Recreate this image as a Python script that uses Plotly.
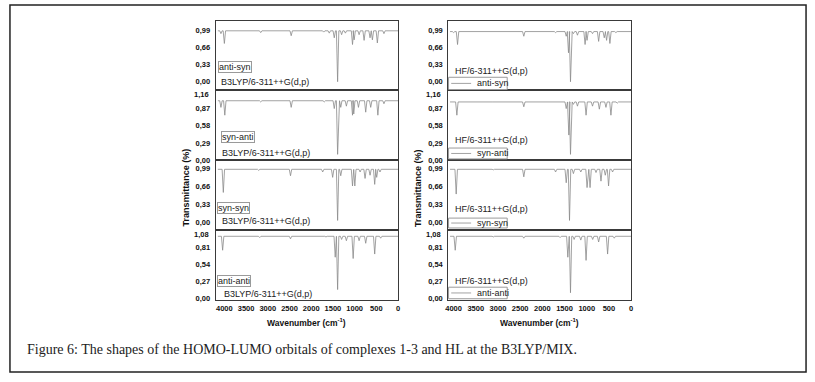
import plotly.graph_objects as go

# ---------------- data ----------------
conformers = ["anti-syn", "syn-anti", "syn-syn", "anti-anti"]
x_tick_vals = [4000, 3500, 3000, 2500, 2000, 1500, 1000, 500, 0]
x_tick_text = ["4000", "3500", "3000", "2500", "2000", "1500", "1000", "500", "0"]

y_ticks_p1 = [0.0, 0.33, 0.66, 0.99]
y_ticks_p2 = [0.0, 0.29, 0.58, 0.87]
y_ticks_p3 = [0.0, 0.33, 0.66, 0.99]
y_ticks_p4 = [0.0, 0.27, 0.54, 0.81]
y_top_labels = ["", "1,16", "", "1,08"]

# B3LYP/6-311++G(d,p): band positions (cm-1) and transmittance at band minimum
as_b3_pos = [4079, 4000, 3163, 2461, 1712, 1584, 1469, 1392, 1300, 1213, 1049, 1011, 897, 782, 645, 591, 477, 325]
as_b3_min = [0.93, 0.74, 0.95, 0.89, 0.96, 0.94, 0.85, 0.00, 0.91, 0.94, 0.72, 0.81, 0.91, 0.80, 0.85, 0.81, 0.75, 0.93]
sa_b3_pos = [4079, 3990, 3163, 2461, 1700, 1469, 1392, 1320, 1190, 1049, 1020, 912, 745, 630, 465, 325]
sa_b3_min = [0.88, 0.75, 0.97, 0.88, 0.97, 0.86, 0.10, 0.88, 0.90, 0.75, 0.77, 0.88, 0.80, 0.88, 0.75, 0.94]
ss_b3_pos = [4024, 3209, 2477, 1736, 1506, 1392, 1320, 1049, 996, 874, 760, 645, 538, 492, 416]
ss_b3_min = [0.55, 0.96, 0.86, 0.93, 0.83, 0.03, 0.86, 0.67, 0.67, 0.93, 0.81, 0.87, 0.70, 0.83, 0.93]
aa_b3_pos = [4040, 3186, 2477, 1660, 1447, 1392, 1300, 1190, 1034, 897, 745, 538, 400]
aa_b3_min = [0.76, 0.96, 0.94, 0.97, 0.65, 0.14, 0.93, 0.91, 0.63, 0.91, 0.87, 0.70, 0.95]

# HF/6-311++G(d,p)
as_hf_pos = [4000, 3911, 3119, 2418, 1702, 1462, 1411, 1366, 1300, 1209, 1037, 993, 870, 732, 605, 553, 478, 343]
as_hf_min = [0.95, 0.72, 0.96, 0.88, 0.95, 0.88, 0.56, 0.00, 0.93, 0.90, 0.72, 0.80, 0.93, 0.78, 0.85, 0.80, 0.74, 0.95]
sa_hf_pos = [3926, 3104, 2418, 1462, 1403, 1366, 1300, 1209, 1015, 870, 716, 567, 455, 313]
sa_hf_min = [0.75, 0.97, 0.89, 0.86, 0.42, 0.10, 0.93, 0.90, 0.75, 0.90, 0.85, 0.88, 0.75, 0.95]
ss_hf_pos = [3941, 3104, 2418, 1702, 1462, 1388, 1300, 1134, 993, 925, 791, 679, 582, 508, 418]
ss_hf_min = [0.52, 0.97, 0.84, 0.93, 0.73, 0.03, 0.90, 0.93, 0.64, 0.64, 0.92, 0.76, 0.87, 0.67, 0.93]
aa_hf_pos = [3963, 3104, 2418, 1600, 1426, 1366, 1284, 1134, 1015, 866, 732, 530, 380]
aa_hf_min = [0.76, 0.97, 0.95, 0.96, 0.65, 0.09, 0.93, 0.92, 0.60, 0.93, 0.89, 0.70, 0.95]

b3_baseline = [0.985, 0.99, 0.98, 0.98]
hf_baseline = [0.97, 0.97, 0.98, 0.98]

# ---------------- layout helpers ----------------
W, H = 815, 382
def fx(p):
    return p / W
def fy(p):
    return 1 - p / H

panel_edges = [21, 91.7, 162.5, 233, 304]
y_ranges = [[-0.17, 1.18], [0.0, 1.16], [-0.147, 1.146], [-0.025, 1.08]]
y_ticks = [y_ticks_p1, y_ticks_p2, y_ticks_p3, y_ticks_p4]
left_dom = [fx(214), fx(397.5)]
right_dom = [fx(448), fx(632)]
left_range = [4200, 0]
right_range = [4120, 0]

LINE = "#8a8a8a"
FRAME = "#3a3a3a"
FONT = "Liberation Sans, Arial, sans-serif"
TICKFONT = dict(family=FONT, size=7.5, color="#111", weight="bold")


def spectrum(pos, mins, base, x0, x1, hw=28):
    pairs = sorted(zip(pos, mins), key=lambda t: -t[0])
    xs, ys = [x0], [base]
    for p, m in pairs:
        xs += [p + hw, p, p - hw]
        ys += [base, m, base]
    xs.append(x1)
    ys.append(base)
    return xs, ys


fig = go.Figure()
b3 = [(as_b3_pos, as_b3_min), (sa_b3_pos, sa_b3_min), (ss_b3_pos, ss_b3_min), (aa_b3_pos, aa_b3_min)]
hf = [(as_hf_pos, as_hf_min), (sa_hf_pos, sa_hf_min), (ss_hf_pos, ss_hf_min), (aa_hf_pos, aa_hf_min)]

layout_axes = {}
n = 0
for side, sets, dom, rng, bases, x0 in [
    ("L", b3, left_dom, left_range, b3_baseline, 4150),
    ("R", hf, right_dom, right_range, hf_baseline, 4080),
]:
    for i in range(4):
        n += 1
        xs, ys = spectrum(sets[i][0], sets[i][1], bases[i], x0, 0)
        xname = "x" if n == 1 else f"x{n}"
        yname = "y" if n == 1 else f"y{n}"
        fig.add_trace(go.Scatter(x=xs, y=ys, xaxis=xname, yaxis=yname, mode="lines",
                                 line=dict(color=LINE, width=0.8), hoverinfo="skip",
                                 showlegend=False))
        key = "" if n == 1 else str(n)
        ydom = [fy(panel_edges[i + 1]), fy(panel_edges[i])]
        xa = dict(
            domain=dom, range=rng, anchor=yname, showgrid=False, zeroline=False,
            showline=True, mirror=True, linecolor=FRAME, linewidth=1, ticks="",
            showticklabels=(i == 3))
        if i == 3:
            xa.update(tickvals=x_tick_vals, ticktext=x_tick_text, tickfont=TICKFONT,
                      ticklabelstandoff=1)
        layout_axes[f"xaxis{key}"] = xa
        layout_axes[f"yaxis{key}"] = dict(
            domain=ydom, range=y_ranges[i], anchor=xname, showgrid=False, zeroline=False,
            showline=True, mirror=True, linecolor=FRAME, linewidth=1, ticks="",
            tickvals=y_ticks[i], ticktext=[f"{v:.2f}".replace(".", ",") for v in y_ticks[i]],
            tickfont=TICKFONT, ticklabelstandoff=3)

fig.update_layout(**layout_axes)

ann = []
shapes = []
# top tick labels drawn just below panel border
for i, lab in enumerate(y_top_labels):
    if lab:
        yy = panel_edges[i] + 4.3
        for xr in (209, 443):
            ann.append(dict(x=fx(xr), y=fy(yy), xref="paper", yref="paper", text=f"<b>{lab}</b>",
                            showarrow=False, xanchor="right", yanchor="middle",
                            font=dict(family=FONT, size=7.5, color="#111")))

# left panel labels
box_y = [68.3, 139, 211, 285]
box_x = [216.7, 219, 215.7, 215.7]
txt_y = [83.3, 155, 224, 297.7]
txt_x = [217.7, 218, 218, 220]
for i in range(4):
    ann.append(dict(x=fx(box_x[i]), y=fy(box_y[i]), xref="paper", yref="paper",
                    text=conformers[i], showarrow=False, xanchor="left", yanchor="middle",
                    bordercolor="#9a9a9a", borderwidth=1, borderpad=0,
                    font=dict(family=FONT, size=9, color="#222")))
    ann.append(dict(x=fx(txt_x[i]), y=fy(txt_y[i]), xref="paper", yref="paper",
                    text="B3LYP/6-311++G(d,p)", showarrow=False, xanchor="left", yanchor="middle",
                    font=dict(family=FONT, size=9, color="#222")))

# right panel labels (legend-like boxes)
hf_txt_y = [72.3, 141.7, 211.7, 285]
leg_top = [78.3, 150, 221, 291]
leg_bot = [90.7, 161, 231, 302.7]
for i in range(4):
    ann.append(dict(x=fx(453), y=fy(hf_txt_y[i]), xref="paper", yref="paper",
                    text="HF/6-311++G(d,p)", showarrow=False, xanchor="left", yanchor="middle",
                    font=dict(family=FONT, size=9, color="#222")))
    shapes.append(dict(type="rect", xref="paper", yref="paper", x0=fx(448.3), x1=fx(507.3),
                       y0=fy(leg_bot[i]), y1=fy(leg_top[i]), line=dict(color="#9a9a9a", width=1)))
    cy = (leg_top[i] + leg_bot[i]) / 2
    shapes.append(dict(type="line", xref="paper", yref="paper", x0=fx(451), x1=fx(471),
                       y0=fy(cy), y1=fy(cy), line=dict(color=LINE, width=0.8)))
    ann.append(dict(x=fx(475), y=fy(cy), xref="paper", yref="paper",
                    text=conformers[i], showarrow=False, xanchor="left", yanchor="middle",
                    font=dict(family=FONT, size=9, color="#222")))

# axis titles
for xc in (184, 417):
    ann.append(dict(x=fx(xc), y=fy(190), xref="paper", yref="paper", text="<b>Transmittance (%)</b>",
                    showarrow=False, textangle=-90, xanchor="center", yanchor="middle",
                    font=dict(family=FONT, size=9, color="#111")))
for xc in (305.5, 540):
    ann.append(dict(x=fx(xc), y=fy(326.5), xref="paper", yref="paper",
                    text="<b>Wavenumber (cm<sup>-1</sup>)</b>",
                    showarrow=False, xanchor="center", yanchor="middle",
                    font=dict(family=FONT, size=8.5, color="#111")))

# caption
ann.append(dict(x=fx(22), y=fy(354), xref="paper", yref="paper",
                text="Figure 6: The shapes of the HOMO-LUMO orbitals of complexes 1-3 and HL at the B3LYP/MIX.",
                showarrow=False, xanchor="left", yanchor="middle",
                font=dict(family="Liberation Serif, Times New Roman, serif", size=14, color="#222")))

# outer frame
shapes.append(dict(type="rect", xref="paper", yref="paper", x0=fx(7), x1=fx(808), y0=fy(377), y1=fy(5),
                   line=dict(color="#222", width=1.5)))

fig.update_layout(width=W, height=H, margin=dict(l=0, r=0, t=0, b=0),
                  paper_bgcolor="white", plot_bgcolor="white",
                  annotations=ann, shapes=shapes, showlegend=False)

fig.write_html("out.html", config={"displayModeBar": False},
               post_script="document.body.style.margin='0px';document.body.style.overflow='hidden';")
